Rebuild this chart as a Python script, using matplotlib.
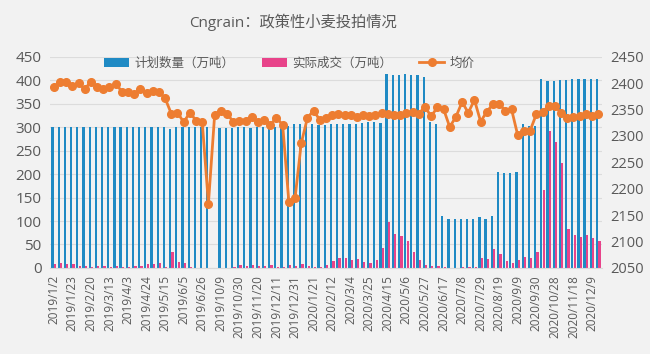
import matplotlib
matplotlib.use('Agg')
import matplotlib.pyplot as plt
import numpy as np

plt.rcParams['font.family'] = ['Open Sans', 'Noto Sans CJK SC', 'DejaVu Sans']

# weekly auction dates (only every third one is labelled on the axis)
dates = [
    '2019/1/2', '2019/1/9', '2019/1/16', '2019/1/23', '2019/1/30', '2019/2/13',
    '2019/2/20', '2019/2/27', '2019/3/6', '2019/3/13', '2019/3/20', '2019/3/27',
    '2019/4/3', '2019/4/10', '2019/4/17', '2019/4/24', '2019/5/1', '2019/5/8',
    '2019/5/15', '2019/5/22', '2019/5/29', '2019/6/5', '2019/6/12', '2019/6/19',
    '2019/6/26', '2019/7/3', '2019/7/10', '2019/10/9', '2019/10/16', '2019/10/23',
    '2019/10/30', '2019/11/6', '2019/11/13', '2019/11/20', '2019/11/27', '2019/12/4',
    '2019/12/11', '2019/12/18', '2019/12/25', '2019/12/31', '2020/1/7', '2020/1/14',
    '2020/1/21', '2020/1/22', '2020/2/5', '2020/2/12', '2020/2/19', '2020/2/26',
    '2020/3/4', '2020/3/11', '2020/3/18', '2020/3/25', '2020/4/1', '2020/4/8',
    '2020/4/15', '2020/4/22', '2020/4/29', '2020/5/6', '2020/5/13', '2020/5/20',
    '2020/5/27', '2020/6/3', '2020/6/10', '2020/6/17', '2020/6/24', '2020/7/1',
    '2020/7/8', '2020/7/15', '2020/7/22', '2020/7/29', '2020/8/5', '2020/8/12',
    '2020/8/19', '2020/8/26', '2020/9/2', '2020/9/9', '2020/9/16', '2020/9/23',
    '2020/9/30', '2020/10/14', '2020/10/21', '2020/10/28', '2020/11/4', '2020/11/11',
    '2020/11/18', '2020/11/25', '2020/12/2', '2020/12/9', '2020/12/16',
]

planned = [
    300, 301, 301, 300, 300, 301, 301, 300, 301, 300, 301, 300,
    301, 300, 301, 301, 300, 301, 301, 295, 300, 301, 300, 301,
    300, 300, 0, 298, 298, 298, 300, 300, 299, 300, 300, 300,
    300, 300, 303, 307, 307, 307, 307, 304, 304, 306, 306, 306,
    306, 306, 308, 310, 311, 309, 413, 411, 411, 413, 411, 410,
    406, 311, 306, 110, 105, 105, 105, 104, 104, 108, 104, 110,
    204, 202, 203, 205, 306, 302, 303, 402, 399, 399, 401, 400,
    402, 402, 403, 403, 402,
]

actual = [
    8, 10, 9, 9, 5, 5, 3, 4, 5, 3, 4, 3,
    3, 5, 5, 8, 8, 10, 2, 35, 13, 10, 2, 1,
    1, 1, 0, 1, 1, 2, 6, 4, 7, 4, 5, 7,
    3, 3, 7, 5, 8, 5, 2, 2, 6, 15, 22, 22,
    17, 19, 13, 10, 17, 42, 98, 72, 68, 57, 35, 17,
    6, 5, 4, 2, 1, 1, 2, 3, 2, 22, 20, 41,
    30, 15, 10, 17, 23, 22, 35, 165, 292, 268, 224, 84,
    70, 67, 70, 64, 58,
]

price = [
    2392, 2402, 2402, 2394, 2400, 2389, 2402, 2393, 2389, 2392, 2399, 2384,
    2383, 2380, 2388, 2381, 2385, 2384, 2371, 2342, 2344, 2326, 2344, 2329,
    2326, 2172, 2339, 2347, 2342, 2327, 2329, 2329, 2336, 2326, 2331, 2321,
    2334, 2321, 2175, 2182, 2286, 2334, 2348, 2330, 2334, 2340, 2342, 2339,
    2339, 2335, 2339, 2337, 2339, 2344, 2341, 2340, 2340, 2343, 2346, 2342,
    2355, 2337, 2354, 2351, 2317, 2336, 2364, 2344, 2368, 2327, 2346, 2360,
    2360, 2348, 2350, 2301, 2309, 2310, 2341, 2345, 2357, 2357, 2343, 2334,
    2336, 2338, 2341, 2337, 2341,
]

bg = '#f2f2f2'
txt = '#595959'
blue = '#1f8ac4'
pink = '#e8438a'
orange = '#ed7d31'

fig = plt.figure(figsize=(6.5, 3.54), dpi=100, facecolor=bg)
ax = fig.add_axes([0.077, 0.243, 0.849, 0.597])
ax.set_facecolor(bg)

x = np.arange(len(dates))
b1 = ax.bar(x - 0.2, planned, width=0.36, color=blue, label='计划数量（万吨）', zorder=2)
b2 = ax.bar(x + 0.2, actual, width=0.36, color=pink, label='实际成交（万吨）', zorder=2)
ax.set_ylim(0, 450)
ax.set_yticks(range(0, 451, 50))
ax.set_xlim(-0.6, len(dates) - 0.4)
ax.set_xticks(x[::3])
ax.set_xticklabels(dates[::3], rotation=90, fontsize=8.5, color=txt)
ax.tick_params(axis='y', labelsize=11, colors=txt, length=0, pad=6)
ax.tick_params(axis='x', length=0, pad=5)
ax.grid(axis='y', color='#dcdcdc', linewidth=0.8, zorder=0)
for s in ['top', 'left', 'right']:
    ax.spines[s].set_visible(False)
ax.spines['bottom'].set_color('#d9d9d9')

ax2 = ax.twinx()
l1, = ax2.plot(x, price, color=orange, linewidth=2.0, marker='o', markersize=5.5,
               label='均价', zorder=3)
ax2.set_ylim(2050, 2450)
ax2.set_yticks(range(2050, 2451, 50))
ax2.tick_params(axis='y', labelsize=10.5, colors=txt, length=0, pad=6)
for s in ax2.spines.values():
    s.set_visible(False)

fig.legend(handles=[b1, b2, l1], loc='center', bbox_to_anchor=(0.445, 0.822),
           ncol=3, frameon=False, fontsize=9, handlelength=2.0, handleheight=0.7,
           columnspacing=2.2, handletextpad=0.4, labelcolor=txt)

fig.text(0.45, 1 - 22 / 354, 'Cngrain：政策性小麦投拍情况', ha='center', va='center',
         fontsize=11, color=txt)

fig.savefig('out.png', dpi=100, facecolor=bg)
